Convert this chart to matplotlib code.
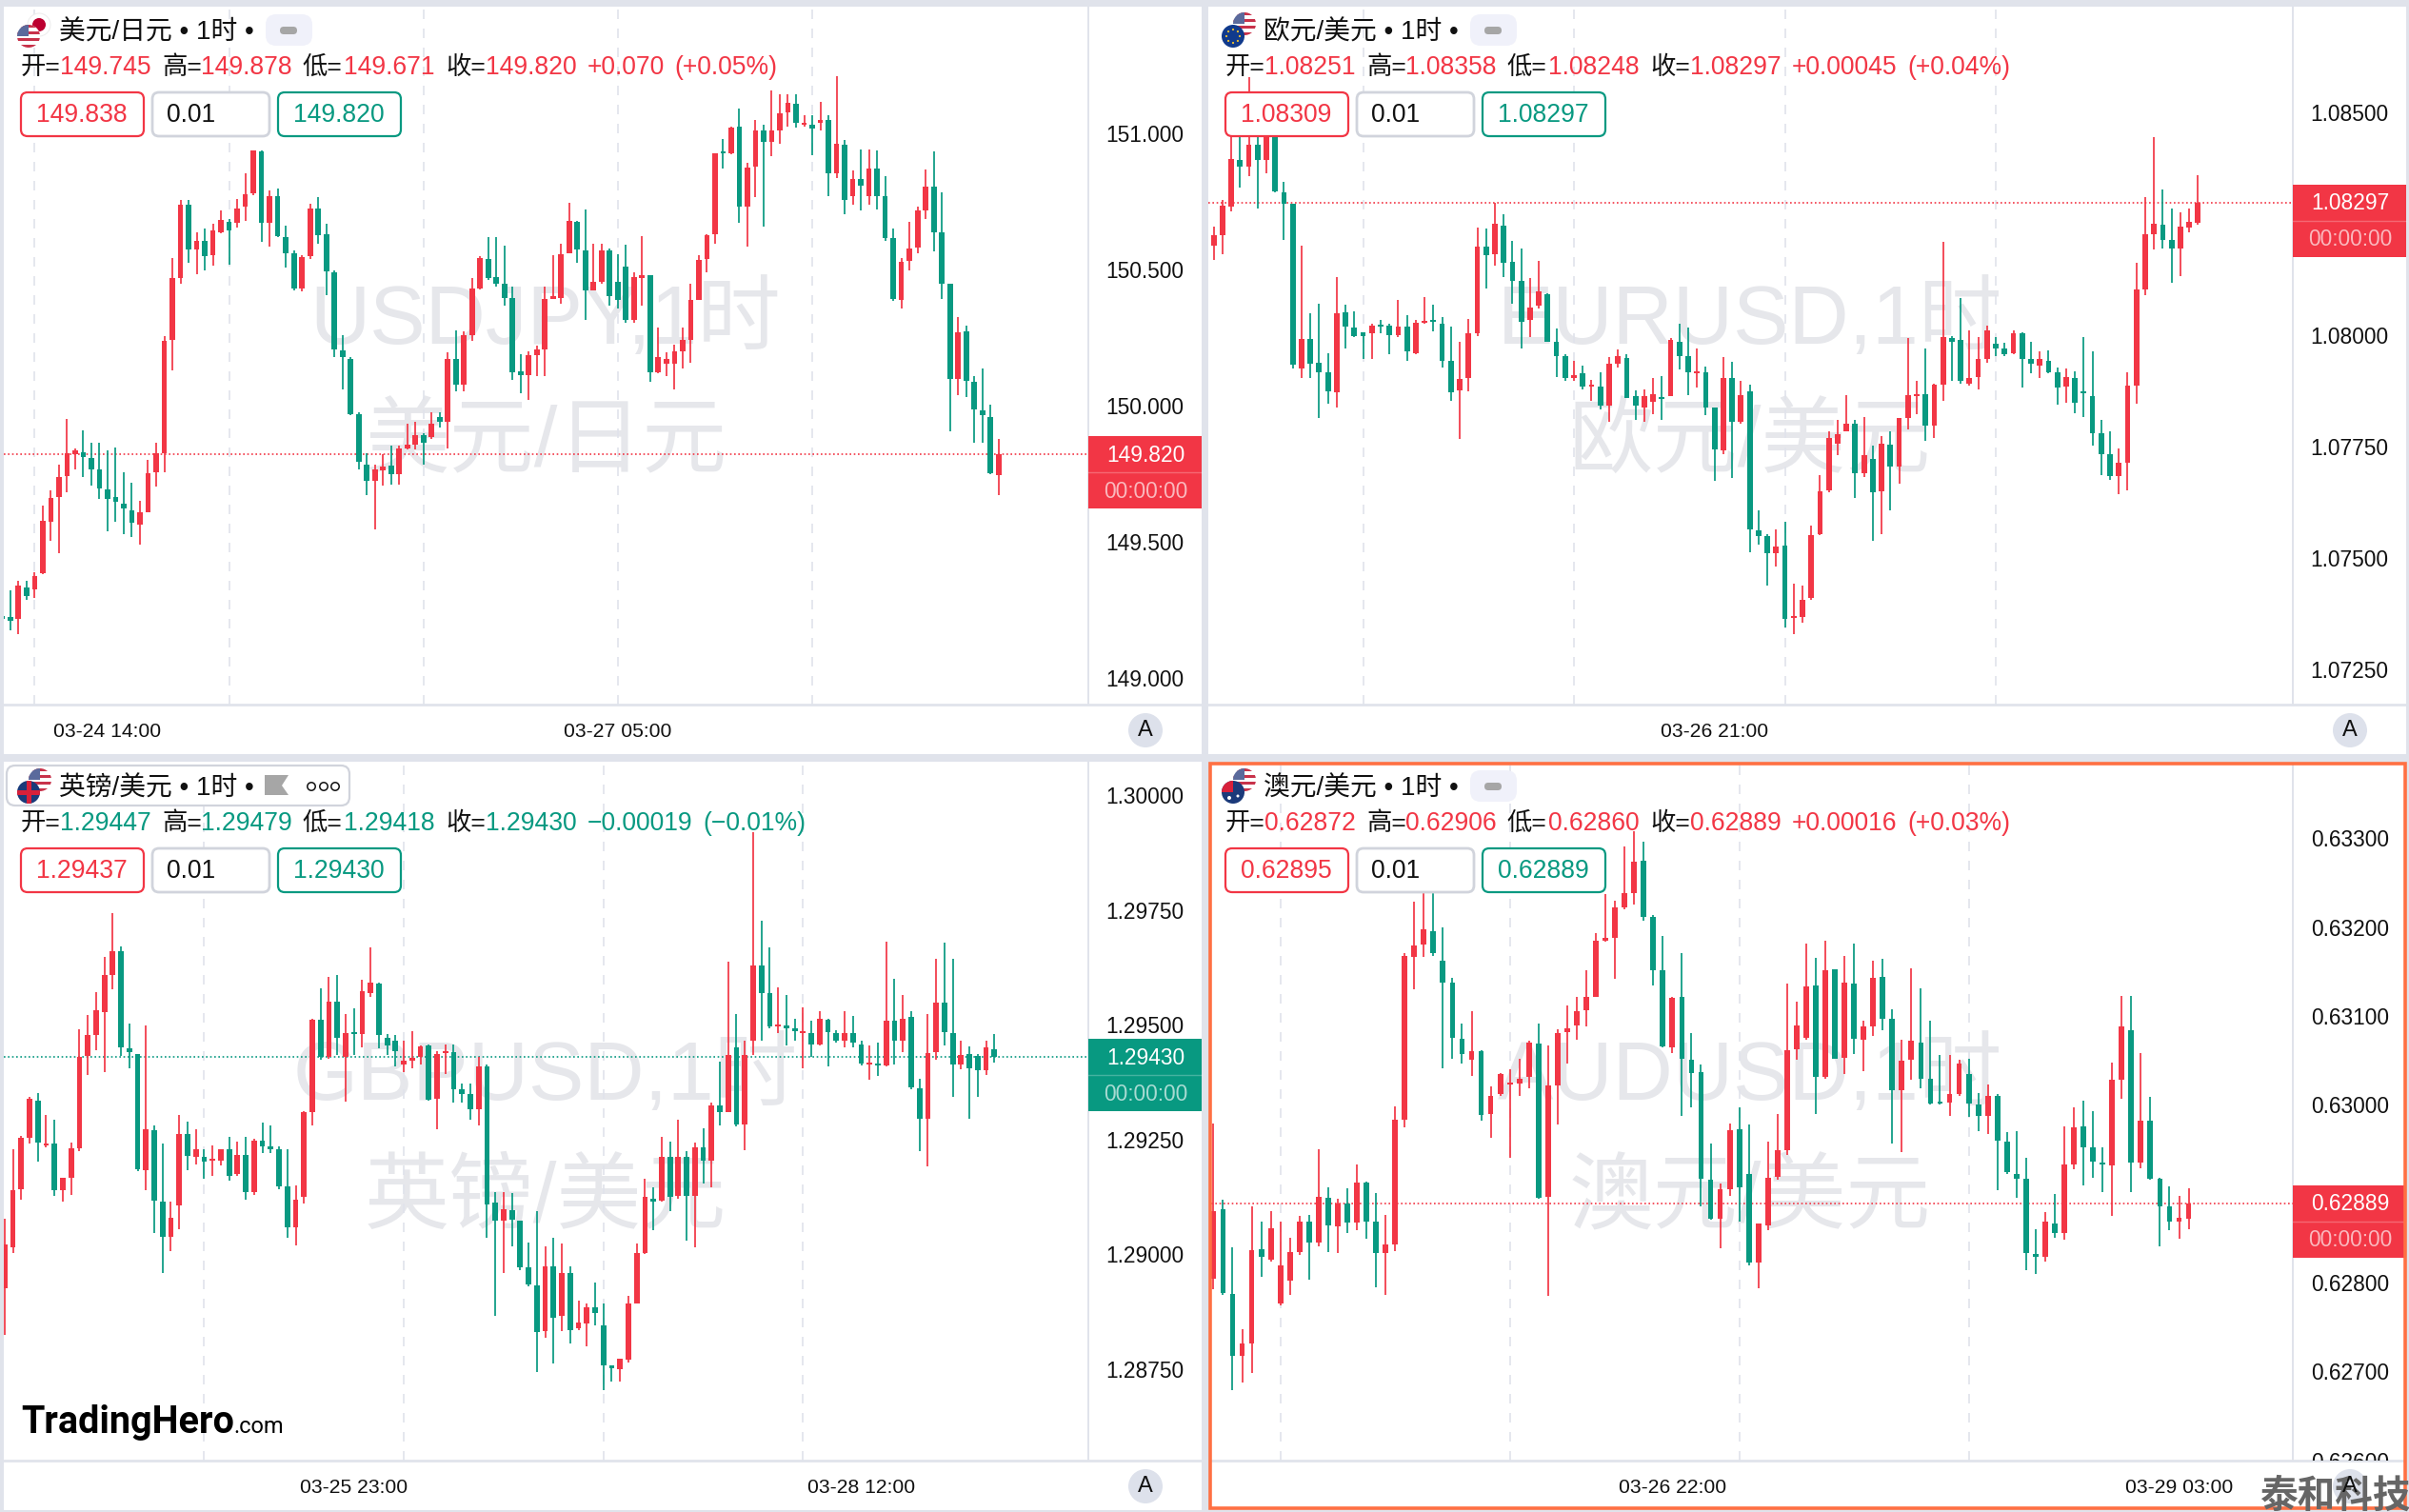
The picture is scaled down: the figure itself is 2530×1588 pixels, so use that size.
import numpy as np
import matplotlib
import matplotlib.pyplot as plt
from matplotlib.patches import Circle, FancyBboxPatch, Rectangle, Polygon
from matplotlib.transforms import Bbox, TransformedBbox

matplotlib.use('Agg')

plt.rcParams['font.family'] = ['Liberation Sans', 'Noto Sans CJK SC', 'DejaVu Sans']

W, H = 2530, 1588
RED = '#F23645'
GREEN = '#089981'
GRID = '#E0E3EB'
WATERMARK = '#E6E7EB'

# open, high, low, close
jpy_ohlc = [
    (149.228, 149.242, 149.207, 149.217), (149.224, 149.322, 149.175, 149.210), (149.217, 149.357, 149.162, 149.338), (149.331, 149.357, 149.286, 149.299),
    (149.324, 149.387, 149.295, 149.373), (149.384, 149.632, 149.380, 149.578), (149.575, 149.688, 149.504, 149.660), (149.663, 149.782, 149.458, 149.738),
    (149.741, 149.950, 149.681, 149.826), (149.823, 149.844, 149.764, 149.835), (149.830, 149.909, 149.738, 149.812), (149.809, 149.865, 149.706, 149.766),
    (149.766, 149.865, 149.658, 149.695), (149.692, 149.835, 149.538, 149.658), (149.663, 149.847, 149.575, 149.646), (149.640, 149.755, 149.529, 149.621),
    (149.617, 149.715, 149.516, 149.570), (149.564, 149.649, 149.490, 149.610), (149.610, 149.800, 149.610, 149.750), (149.755, 149.865, 149.702, 149.826),
    (149.826, 150.255, 149.755, 150.239), (150.242, 150.543, 150.131, 150.470), (150.469, 150.754, 150.449, 150.736), (150.736, 150.754, 150.525, 150.573),
    (150.573, 150.637, 150.481, 150.605), (150.605, 150.649, 150.495, 150.548), (150.552, 150.667, 150.513, 150.644), (150.637, 150.715, 150.632, 150.681),
    (150.676, 150.685, 150.517, 150.644), (150.671, 150.757, 150.655, 150.725), (150.729, 150.853, 150.679, 150.777), (150.778, 150.938, 150.773, 150.938),
    (150.932, 150.936, 150.601, 150.671), (150.671, 150.791, 150.584, 150.768), (150.768, 150.796, 150.619, 150.623), (150.619, 150.662, 150.508, 150.561),
    (150.561, 150.570, 150.424, 150.431), (150.431, 150.552, 150.419, 150.547), (150.550, 150.741, 150.538, 150.724), (150.724, 150.764, 150.596, 150.626),
    (150.628, 150.667, 150.407, 150.492), (150.490, 150.495, 150.177, 150.207), (150.203, 150.260, 150.060, 150.178), (150.171, 150.177, 149.964, 149.968),
    (149.968, 149.977, 149.764, 149.794), (149.784, 149.826, 149.670, 149.724), (149.724, 149.782, 149.547, 149.764), (149.763, 149.823, 149.706, 149.777),
    (149.780, 149.853, 149.711, 149.747), (149.747, 149.853, 149.709, 149.844), (149.844, 149.932, 149.840, 149.855), (149.858, 149.941, 149.840, 149.893),
    (149.893, 149.897, 149.782, 149.865), (149.886, 149.977, 149.879, 149.932), (149.959, 149.977, 149.918, 149.939), (149.941, 150.194, 149.844, 150.171),
    (150.171, 150.277, 150.053, 150.077), (150.077, 150.272, 150.053, 150.260), (150.260, 150.467, 150.237, 150.431), (150.431, 150.548, 150.428, 150.543),
    (150.540, 150.619, 150.463, 150.467), (150.472, 150.619, 150.437, 150.446), (150.446, 150.587, 150.366, 150.396), (150.396, 150.437, 150.095, 150.124),
    (150.125, 150.189, 150.047, 150.113), (150.113, 150.198, 150.021, 150.184), (150.184, 150.219, 150.109, 150.207), (150.207, 150.437, 150.109, 150.393),
    (150.393, 150.552, 150.393, 150.401), (150.396, 150.596, 150.375, 150.557), (150.561, 150.743, 150.561, 150.679), (150.676, 150.679, 150.525, 150.573),
    (150.570, 150.720, 150.313, 150.423), (150.423, 150.596, 150.423, 150.455), (150.455, 150.596, 150.446, 150.570), (150.570, 150.578, 150.366, 150.401),
    (150.455, 150.555, 150.357, 150.389), (150.511, 150.591, 150.304, 150.313), (150.313, 150.490, 150.304, 150.472), (150.467, 150.623, 150.366, 150.478),
    (150.478, 150.478, 150.086, 150.124), (150.124, 150.286, 150.118, 150.177), (150.154, 150.194, 150.109, 150.171), (150.154, 150.224, 150.060, 150.198),
    (150.198, 150.286, 150.136, 150.242), (150.242, 150.446, 150.159, 150.389), (150.389, 150.552, 150.389, 150.534), (150.538, 150.628, 150.490, 150.626),
    (150.628, 150.927, 150.596, 150.925), (150.931, 150.980, 150.870, 150.925), (150.927, 151.026, 150.924, 151.021), (151.023, 151.090, 150.672, 150.729),
    (150.729, 150.892, 150.584, 150.874), (150.876, 151.048, 150.764, 151.009), (151.009, 151.033, 150.658, 150.968), (150.968, 151.157, 150.915, 151.009),
    (151.009, 151.145, 150.963, 151.074), (151.078, 151.145, 151.026, 151.111), (151.108, 151.145, 151.021, 151.039), (151.030, 151.065, 151.026, 151.035),
    (151.030, 151.065, 150.918, 151.019), (151.040, 151.115, 151.009, 151.048), (151.048, 151.065, 150.768, 150.853), (150.853, 151.210, 150.835, 150.963),
    (150.959, 150.977, 150.702, 150.754), (150.768, 150.862, 150.738, 150.832), (150.832, 150.941, 150.715, 150.809), (150.768, 150.941, 150.738, 150.871),
    (150.871, 150.938, 150.720, 150.768), (150.768, 150.844, 150.605, 150.614), (150.614, 150.649, 150.384, 150.393), (150.389, 150.543, 150.357, 150.529),
    (150.531, 150.676, 150.495, 150.578), (150.582, 150.729, 150.561, 150.715), (150.715, 150.867, 150.685, 150.803), (150.803, 150.934, 150.566, 150.637),
    (150.637, 150.782, 150.393, 150.446), (150.446, 150.446, 149.906, 150.097), (150.097, 150.325, 150.039, 150.269), (150.272, 150.294, 150.030, 150.092),
    (150.086, 150.109, 149.862, 149.985), (149.982, 150.136, 149.862, 149.964), (149.959, 150.003, 149.747, 149.752), (149.745, 149.878, 149.671, 149.820),
]

# the other three pairs are kept in points (1e-5)
eur_ohlc = [
    (108200, 108243, 108168, 108224), (108224, 108303, 108181, 108289), (108287, 108443, 108278, 108395), (108392, 108443, 108330, 108377),
    (108378, 108578, 108357, 108427), (108427, 108443, 108284, 108392), (108392, 108460, 108362, 108450), (108450, 108460, 108319, 108322),
    (108319, 108343, 108213, 108295), (108294, 108295, 107925, 107933), (107925, 108200, 107903, 107992), (107992, 108049, 107903, 107936),
    (107939, 108071, 107814, 107917), (107917, 107959, 107846, 107874), (107871, 108129, 107838, 108049), (108051, 108068, 107971, 108019),
    (108017, 108054, 107995, 107997), (108006, 108006, 107946, 107998), (108004, 108025, 107946, 108021), (108021, 108033, 108004, 108019),
    (108021, 108025, 107957, 107999), (107999, 108079, 107995, 108019), (108019, 108044, 107943, 107963), (107960, 108033, 107957, 108027),
    (108027, 108086, 108025, 108032), (108033, 108068, 108008, 108030), (108025, 108040, 107928, 107943), (107943, 108019, 107852, 107871),
    (107876, 107984, 107768, 107901), (107903, 108036, 107874, 108004), (108004, 108241, 107997, 108198), (108198, 108238, 108105, 108179),
    (108182, 108297, 108155, 108249), (108246, 108270, 108130, 108162), (108165, 108211, 108071, 108122), (108122, 108195, 107971, 108030),
    (108033, 108127, 107995, 108062), (108067, 108166, 108060, 108098), (108092, 108094, 107984, 107984), (107986, 108014, 107906, 107952),
    (107954, 107957, 107898, 107903), (107903, 107943, 107898, 107911), (107914, 107932, 107878, 107885), (107884, 107900, 107852, 107887),
    (107885, 107917, 107833, 107842), (107842, 107950, 107806, 107936), (107936, 107968, 107928, 107952), (107949, 107957, 107860, 107860),
    (107863, 107876, 107809, 107842), (107838, 107878, 107806, 107863), (107850, 107903, 107822, 107868), (107860, 107909, 107811, 107857),
    (107863, 107993, 107863, 107990), (107986, 108025, 107922, 107954), (107954, 108017, 107865, 107917), (107914, 107971, 107882, 107919),
    (107917, 107930, 107820, 107838), (107838, 107838, 107673, 107744), (107741, 107950, 107734, 107903), (107903, 107941, 107680, 107806),
    (107806, 107898, 107801, 107865), (107874, 107889, 107514, 107565), (107563, 107608, 107531, 107550), (107550, 107554, 107439, 107511),
    (107511, 107565, 107482, 107526), (107528, 107582, 107345, 107364), (107366, 107442, 107330, 107371), (107369, 107439, 107356, 107407),
    (107412, 107574, 107406, 107552), (107554, 107687, 107552, 107649), (107652, 107784, 107647, 107770), (107757, 107811, 107730, 107779),
    (107784, 107865, 107784, 107801), (107801, 107811, 107636, 107690), (107690, 107817, 107682, 107730), (107723, 107752, 107539, 107647),
    (107649, 107774, 107554, 107757), (107755, 107784, 107608, 107706), (107706, 107814, 107666, 107814), (107814, 107993, 107788, 107865),
    (107863, 107898, 107822, 107868), (107868, 107971, 107763, 107798), (107798, 107892, 107770, 107889), (107889, 108208, 107852, 107995),
    (107993, 107997, 107898, 107984), (107989, 108084, 107892, 107898), (107892, 108011, 107887, 107904), (107906, 107995, 107878, 107946),
    (107946, 108022, 107939, 108010), (107980, 107995, 107954, 107971), (107971, 107982, 107952, 107958), (107960, 108011, 107957, 108004),
    (108004, 108006, 107882, 107946), (107946, 107984, 107914, 107936), (107932, 107963, 107903, 107946), (107943, 107965, 107914, 107917),
    (107917, 107928, 107844, 107883), (107885, 107925, 107849, 107906), (107903, 107919, 107824, 107849), (107874, 107995, 107817, 107870),
    (107863, 107963, 107752, 107781), (107781, 107811, 107687, 107734), (107734, 107784, 107676, 107684), (107684, 107747, 107644, 107714),
    (107714, 107917, 107652, 107887), (107887, 108162, 107846, 108103), (108103, 108310, 108090, 108227), (108227, 108443, 108192, 108249),
    (108248, 108327, 108195, 108213), (108214, 108284, 108117, 108194), (108194, 108276, 108133, 108243), (108241, 108284, 108230, 108254),
    (108251, 108358, 108248, 108297),
]

gbp_ohlc = [
    (128927, 129078, 128824, 129021), (129015, 129230, 129004, 129139), (129141, 129259, 129120, 129254), (129253, 129343, 129241, 129338),
    (129335, 129351, 129202, 129244), (129238, 129304, 129233, 129242), (129241, 129293, 129128, 129139), (129139, 129167, 129115, 129166),
    (129167, 129244, 129130, 129231), (129231, 129490, 129225, 129430), (129433, 129521, 129391, 129477), (129477, 129571, 129445, 129532),
    (129527, 129647, 129398, 129608), (129608, 129743, 129577, 129661), (129661, 129671, 129433, 129450), (129448, 129503, 129406, 129440),
    (129437, 129437, 129181, 129185), (129183, 129498, 129139, 129272), (129270, 129280, 129046, 129118), (129115, 129241, 128960, 129039),
    (129038, 129115, 129007, 129080), (129107, 129304, 129055, 129262), (129262, 129290, 129183, 129214), (129212, 129272, 129196, 129230),
    (129212, 129230, 129164, 129202), (129204, 129238, 129172, 129206), (129204, 129230, 129193, 129230), (129230, 129256, 129160, 129172),
    (129175, 129246, 129170, 129217), (129217, 129256, 129120, 129136), (129136, 129251, 129130, 129248), (129248, 129288, 129220, 129235),
    (129235, 129280, 129220, 129230), (129230, 129235, 129143, 129149), (129149, 129230, 129036, 129059), (129059, 129151, 129020, 129120),
    (129126, 129311, 129110, 129309), (129309, 129514, 129280, 129511), (129511, 129580, 129424, 129430), (129430, 129605, 129427, 129550),
    (129550, 129608, 129435, 129472), (129430, 129524, 129332, 129481), (129482, 129535, 129435, 129479), (129479, 129598, 129451, 129574),
    (129569, 129668, 129561, 129592), (129590, 129592, 129448, 129477), (129472, 129479, 129435, 129456), (129466, 129477, 129409, 129443),
    (129414, 129466, 129398, 129421), (129422, 129487, 129406, 129428), (129430, 129456, 129414, 129453), (129456, 129458, 129335, 129337),
    (129338, 129443, 129272, 129437), (129438, 129458, 129393, 129443), (129440, 129458, 129330, 129359), (129359, 129372, 129330, 129349),
    (129349, 129372, 129293, 129317), (129317, 129430, 129280, 129410), (129410, 129414, 129036, 129109), (129112, 129136, 128866, 129073),
    (129073, 129136, 128960, 129099), (129097, 129133, 129017, 129076), (129073, 129073, 128965, 128971), (128971, 129026, 128931, 128935),
    (128933, 129094, 128744, 128831), (128834, 129017, 128818, 128973), (128975, 129036, 128763, 128863), (128866, 129023, 128834, 128960),
    (128960, 128975, 128807, 128836), (128839, 128899, 128836, 128852), (128849, 128894, 128800, 128884), (128884, 128939, 128845, 128873),
    (128845, 128894, 128705, 128758), (128758, 128758, 128723, 128752), (128750, 128773, 128723, 128773), (128771, 128910, 128765, 128893),
    (128894, 129023, 128893, 129004), (129004, 129164, 129002, 129125), (129122, 129146, 129052, 129115), (129118, 129256, 129115, 129212),
    (129212, 129246, 129094, 129125), (129128, 129293, 129122, 129212), (129212, 129225, 129031, 129128), (129128, 129244, 129015, 129233),
    (129233, 129275, 129154, 129204), (129204, 129330, 129146, 129325), (129325, 129419, 129280, 129309), (129309, 129637, 129309, 129435),
    (129451, 129524, 129278, 129282), (129283, 129466, 129227, 129435), (129466, 129920, 129435, 129629), (129629, 129727, 129466, 129569),
    (129569, 129668, 129493, 129496), (129496, 129582, 129482, 129500), (129498, 129566, 129456, 129493), (129493, 129514, 129466, 129487),
    (129482, 129538, 129406, 129485), (129482, 129508, 129430, 129458), (129458, 129529, 129456, 129514), (129511, 129514, 129409, 129485),
    (129482, 129489, 129461, 129466), (129466, 129529, 129451, 129482), (129482, 129519, 129451, 129461), (129458, 129466, 129412, 129416),
    (129414, 129456, 129380, 129416), (129416, 129461, 129388, 129412), (129412, 129682, 129409, 129508), (129508, 129601, 129414, 129466),
    (129466, 129566, 129440, 129514), (129517, 129529, 129359, 129364), (129361, 129382, 129225, 129296), (129296, 129524, 129191, 129438),
    (129440, 129643, 129424, 129548), (129548, 129680, 129456, 129485), (129482, 129643, 129343, 129414), (129414, 129466, 129403, 129435),
    (129437, 129453, 129296, 129406), (129433, 129437, 129343, 129401), (129401, 129466, 129391, 129450), (129447, 129479, 129418, 129430),
]

aud_ohlc = [
    (62804, 62979, 62792, 62880), (62882, 62893, 62786, 62788), (62787, 62840, 62679, 62717), (62717, 62747, 62687, 62731),
    (62731, 62886, 62698, 62836), (62837, 62869, 62806, 62829), (62826, 62880, 62823, 62861), (62776, 62868, 62774, 62819),
    (62802, 62850, 62786, 62834), (62834, 62875, 62831, 62868), (62868, 62876, 62803, 62845), (62845, 62950, 62841, 62896),
    (62895, 62907, 62834, 62864), (62863, 62894, 62833, 62889), (62889, 62906, 62856, 62867), (62867, 62933, 62859, 62913),
    (62913, 62914, 62849, 62868), (62868, 62901, 62795, 62833), (62833, 62876, 62786, 62843), (62843, 62998, 62835, 62983),
    (62983, 63171, 62975, 63168), (63166, 63229, 63130, 63179), (63180, 63238, 63166, 63198), (63195, 63238, 63168, 63171),
    (63162, 63200, 63041, 63138), (63138, 63143, 63052, 63075), (63074, 63092, 63046, 63057), (63051, 63105, 63032, 63060),
    (63060, 63061, 62982, 62989), (62990, 63021, 62963, 63010), (63012, 63036, 63010, 63035), (63023, 63040, 62940, 63025),
    (63024, 63052, 63010, 63029), (63031, 63072, 63019, 63070), (63069, 63092, 62894, 62895), (62896, 63067, 62785, 63022),
    (63022, 63085, 62978, 63081), (63082, 63112, 63046, 63086), (63089, 63122, 63073, 63105), (63107, 63152, 63088, 63122),
    (63122, 63193, 63122, 63185), (63185, 63237, 63184, 63188), (63188, 63230, 63142, 63222), (63222, 63291, 63220, 63238),
    (63238, 63308, 63225, 63274), (63275, 63296, 63207, 63211), (63211, 63214, 63134, 63152), (63152, 63190, 63065, 63066),
    (63065, 63122, 63058, 63120), (63121, 63171, 62987, 63052), (63051, 63081, 62997, 63036), (63037, 63045, 62886, 62917),
    (62916, 62956, 62871, 62872), (62872, 62911, 62838, 62905), (62905, 62979, 62898, 62971), (62972, 62997, 62869, 62907),
    (62922, 62978, 62819, 62822), (62822, 62866, 62794, 62866), (62864, 62959, 62859, 62918), (62919, 62990, 62916, 62949),
    (62949, 63137, 62944, 63061), (63062, 63116, 63051, 63089), (63075, 63181, 63073, 63133), (63134, 63165, 62990, 63031),
    (63031, 63185, 63029, 63152), (63153, 63153, 63052, 63052), (63053, 63168, 63035, 63138), (63137, 63181, 63057, 63074),
    (63073, 63095, 63038, 63088), (63088, 63162, 63078, 63143), (63144, 63164, 63084, 63097), (63097, 63108, 62956, 63016),
    (63016, 63073, 62947, 63050), (63051, 63154, 63028, 63072), (63070, 63131, 63019, 63029), (63029, 63095, 63000, 63001),
    (63003, 63056, 63000, 63001), (63003, 63056, 62987, 63012), (63012, 63051, 63010, 63046), (63035, 63052, 62986, 63001),
    (63000, 63013, 62970, 62987), (62987, 63023, 62967, 63010), (63010, 63012, 62904, 62960), (62959, 62969, 62922, 62924),
    (62922, 62970, 62895, 62917), (62917, 62940, 62814, 62833), (62832, 62860, 62810, 62829), (62829, 62879, 62823, 62868),
    (62866, 62900, 62850, 62856), (62856, 62976, 62848, 62933), (62933, 62997, 62927, 62975), (62976, 63005, 62909, 62952),
    (62952, 62993, 62918, 62936), (62935, 62952, 62902, 62933), (62932, 63047, 62875, 63028), (63028, 63123, 63007, 63088),
    (63084, 63123, 62902, 62935), (62935, 63058, 62929, 62982), (62982, 63009, 62916, 62917), (62917, 62918, 62841, 62886),
    (62886, 62908, 62859, 62868), (62868, 62898, 62849, 62873), (62872, 62906, 62860, 62889),
]

jpy_ticks = [149.0, 149.5, 150.0, 150.5, 151.0]
eur_ticks = [1.0725, 1.075, 1.0775, 1.08, 1.085]
gbp_ticks = [1.2875, 1.29, 1.2925, 1.295, 1.2975, 1.30]
aud_ticks = [0.626, 0.627, 0.628, 0.63, 0.631, 0.632, 0.633]

jpy_quote = ['149.745', '149.878', '149.671', '149.820', '+0.070', '(+0.05%)', '149.838', '149.820']
eur_quote = ['1.08251', '1.08358', '1.08248', '1.08297', '+0.00045', '(+0.04%)', '1.08309', '1.08297']
gbp_quote = ['1.29447', '1.29479', '1.29418', '1.29430', '\u22120.00019', '(\u22120.01%)', '1.29437', '1.29430']
aud_quote = ['0.62872', '0.62906', '0.62860', '0.62889', '+0.00016', '(+0.03%)', '0.62895', '0.62889']

panels = [
    dict(ohlc=jpy_ohlc, scale=1, fmt='%.3f', ticks=jpy_ticks, quote=jpy_quote, name='美元/日元', mark='USDJPY,1时',
         box=(4, 7, 1143, 740), right=1262, bottom=792, xlim=(0.19, 134.09), ylim=(148.902, 151.465),
         grid=[4, 28, 52, 76, 100], times=[13, 76], labels=['03-24 14:00', '03-27 05:00'], dx=0, dy=0, flag='jp'),
    dict(ohlc=eur_ohlc, scale=1e5, fmt='%.5f', ticks=eur_ticks, quote=eur_quote, name='欧元/美元', mark='EURUSD,1时',
         box=(1269, 7, 2408, 740), right=2527, bottom=792, xlim=(-0.61, 122.8), ylim=(1.07172, 1.08736),
         grid=[17, 41, 65, 89], times=[57], labels=['03-26 21:00'], dx=1265, dy=0, flag='eu'),
    dict(ohlc=gbp_ohlc, scale=1e5, fmt='%.5f', ticks=gbp_ticks, quote=gbp_quote, name='英镑/美元', mark='GBPUSD,1时',
         box=(4, 800, 1143, 1534), right=1262, bottom=1586, xlim=(-0.09, 130.3), ylim=(1.28551, 1.30073),
         grid=[24, 48, 72, 96], times=[42, 103], labels=['03-25 23:00', '03-28 12:00'], dx=0, dy=794, flag='uk'),
    dict(ohlc=aud_ohlc, scale=1e5, fmt='%.5f', ticks=aud_ticks, quote=aud_quote, name='澳元/美元', mark='AUDUSD,1时',
         box=(1272, 803, 2408, 1534), right=2527, bottom=1584, xlim=(-0.24, 112.9), ylim=(0.625995, 0.63383),
         grid=[7, 31, 55, 79], times=[48, 101], labels=['03-26 22:00', '03-29 03:00'], dx=1265, dy=794, flag='au'),
]


def round_box(ax, x0, y0, x1, y1, face, edge, lw=1.6, rad=7, z=5):
    ax.add_patch(FancyBboxPatch((x0 + rad, y0 + rad), x1 - x0 - 2 * rad, y1 - y0 - 2 * rad,
                                boxstyle='round,pad=%d,rounding_size=%d' % (rad, rad),
                                fc=face, ec=edge, lw=lw, zorder=z))


# flags are small circles with clipped shapes on top
def draw_flag(ax, cx, cy, kind, z):
    r = 12
    base = {'us': 'white', 'jp': 'white', 'eu': '#103A8C', 'uk': '#1B3A7A', 'au': '#1B3A7A'}[kind]
    disc = Circle((cx, cy), r, fc=base, ec='none', zorder=z)
    ax.add_patch(disc)
    parts = []
    if kind == 'us':
        for k in range(7):
            if k % 2 == 0:
                parts.append(Rectangle((cx - r, cy - r + k * 2 * r / 7), 2 * r, 2 * r / 7, fc='#C8324A', ec='none'))
        parts.append(Rectangle((cx - r, cy - r), r, r, fc='#5A6A9C', ec='none'))
    elif kind == 'jp':
        parts.append(Circle((cx, cy), 7, fc='#BC0030', ec='none'))
    elif kind == 'eu':
        for a in np.linspace(0, 2 * np.pi, 8, endpoint=False):
            parts.append(Circle((cx + 7 * np.cos(a), cy + 7 * np.sin(a)), 1.1, fc='#F2C230', ec='none'))
    elif kind == 'uk':
        parts.append(Rectangle((cx - r, cy - 2.5), 2 * r, 5, fc='#D8203A', ec='none'))
        parts.append(Rectangle((cx - 2.5, cy - r), 5, 2 * r, fc='#D8203A', ec='none'))
    elif kind == 'au':
        parts.append(Rectangle((cx - r, cy - r), r, r, fc='#D8203A', ec='none'))
        parts.append(Circle((cx + 5, cy + 4), 1.5, fc='white', ec='none'))
        parts.append(Circle((cx - 4, cy + 6), 2, fc='white', ec='none'))
    for p in parts:
        p.set_zorder(z + 0.1)
        ax.add_patch(p)
        p.set_clip_path(disc)


fig = plt.figure(figsize=(W / 100, H / 100), dpi=100, facecolor=GRID)

# white panels at the back, the ui furniture in pixel space on top
back = fig.add_axes([0, 0, 1, 1], zorder=0)
back.set_xlim(0, W)
back.set_ylim(H, 0)
back.axis('off')
over = fig.add_axes([0, 0, 1, 1], zorder=5)
over.set_xlim(0, W)
over.set_ylim(H, 0)
over.axis('off')
over.patch.set_alpha(0)

for p in panels:
    x0, y0, x1, y1 = p['box']
    dx, dy = p['dx'], p['dy']
    back.add_patch(Rectangle((x0, y0), p['right'] - x0, p['bottom'] - y0, fc='white', ec='none'))
    back.plot([x1, x1], [y0, y1], color=GRID, lw=1.4)
    back.plot([x0, p['right']], [y1, y1], color=GRID, lw=2)

    ax = fig.add_axes([x0 / W, 1 - y1 / H, (x1 - x0) / W, (y1 - y0) / H], zorder=2)
    ax.patch.set_alpha(0)
    for s in ax.spines.values():
        s.set_visible(False)
    ax.set_xlim(p['xlim'])
    ax.set_ylim(p['ylim'])

    # watermark under the candles
    mx = dx + 573
    ax.text(mx / W, 1 - (dy + 337) / H, p['mark'], transform=fig.transFigure, ha='center', va='center',
            fontsize=63, color=WATERMARK, zorder=0.5)
    ax.text(mx / W, 1 - (dy + 467) / H, p['name'], transform=fig.transFigure, ha='center', va='center',
            fontsize=64, color=WATERMARK, zorder=0.5)

    for g in p['grid']:
        ax.axvline(g, color=GRID, lw=1.2, ls=(0, (6, 6)), zorder=1)

    # candles
    ohlc = np.array(p['ohlc'], dtype=float) / p['scale']
    xs = np.arange(len(ohlc))
    spacing = (x1 - x0) / (p['xlim'][1] - p['xlim'][0])
    colors = [RED if c >= o else GREEN for o, c in zip(ohlc[:, 0], ohlc[:, 3])]
    ax.vlines(xs, ohlc[:, 2], ohlc[:, 1], colors=colors, lw=1.25, zorder=3)
    body_min = (p['ylim'][1] - p['ylim'][0]) / (y1 - y0) * 2
    ax.bar(xs, np.maximum(np.abs(ohlc[:, 3] - ohlc[:, 0]), body_min), bottom=np.minimum(ohlc[:, 0], ohlc[:, 3]),
           width=5.8 / spacing, color=colors, lw=0, zorder=3)

    last = ohlc[-1, 3]
    col = colors[-1]
    ax.axhline(last, color=col, lw=1.2, ls=(0, (1, 1.6)), zorder=2)

    # axes text
    ax.yaxis.tick_right()
    ax.set_yticks(p['ticks'], [p['fmt'] % t for t in p['ticks']])
    ax.tick_params(axis='y', length=0, pad=43, labelsize=16.4, labelcolor='#111111')
    for lab in ax.get_yticklabels():
        lab.set_ha('center')
        lab.set_clip_on(True)
        lab.set_clip_box(TransformedBbox(Bbox([[x1 / W, 1 - y1 / H], [p['right'] / W, 1 - y0 / H]]), fig.transFigure))
    ax.set_xticks(p['times'], p['labels'])
    ax.tick_params(axis='x', length=0, pad=14, labelsize=15.2, labelcolor='#111111')

    # last price flag on the price axis
    ax_y = y0 + (p['ylim'][1] - last) / (p['ylim'][1] - p['ylim'][0]) * (y1 - y0)
    over.add_patch(Rectangle((x1, ax_y - 19), p['right'] - x1, 76, fc=col, ec='none', zorder=3))
    over.plot([x1, p['right']], [ax_y + 19, ax_y + 19], color='white', alpha=0.25, lw=1, zorder=3.1)
    over.text(dx + 1203, ax_y + 1, p['quote'][3], color='white', fontsize=16.4, ha='center', va='center', zorder=4)
    over.text(dx + 1203, ax_y + 39, '00:00:00', color='#FFFFFF', alpha=0.65, fontsize=16.4, ha='center', va='center', zorder=4)

    # header
    q = p['quote']
    qc = RED if q[4][0] == '+' else GREEN
    if p['flag'] == 'uk':
        round_box(over, 7, dy + 10, 367, dy + 52, 'white', '#D1D4DC', lw=1.6, rad=9, z=2)
    if p['flag'] == 'jp':
        draw_flag(over, dx + 41, dy + 26, 'jp', 5)
        over.add_patch(Circle((dx + 41, dy + 26), 12, fc='none', ec='#EEEEEE', lw=0.8, zorder=5.2))
        draw_flag(over, dx + 30, dy + 38, 'us', 6)
    else:
        draw_flag(over, dx + 42, dy + 25, 'us', 5)
        draw_flag(over, dx + 30, dy + 38, p['flag'], 6)
    over.text(dx + 62, dy + 42, p['name'] + ' • 1时 •', fontsize=20, color='#111111', va='baseline', zorder=6)
    if p['flag'] == 'uk':
        over.add_patch(Polygon([(278, dy + 20), (303, dy + 20), (296, dy + 31), (303, dy + 41), (278, dy + 41)], fc='#A6A6A6', ec='none', zorder=6))
        for cx in [327, 340, 352]:
            over.add_patch(Circle((cx, dy + 32), 4.2, fc='none', ec='#111111', lw=1.1, zorder=6))
    else:
        round_box(over, dx + 279, dy + 15, dx + 328, dy + 48, '#F0F1FA', 'none', lw=0, rad=11)
        round_box(over, dx + 294, dy + 28, dx + 312, dy + 36, '#A6A6A6', 'none', lw=0, rad=4, z=6)

    base_y = dy + 78
    for lab, lx in zip(['开=', '高=', '低=', '收='], [22, 170, 317, 468]):
        over.text(dx + lx, base_y, lab, fontsize=19, color='#111111', va='baseline', zorder=6)
    for val, vx in zip(q[:6], [63, 211, 361, 510, 617, 708 if p['flag'] == 'jp' else 738]):
        over.text(dx + vx, base_y, val, fontsize=19.1, color=qc, va='baseline', zorder=6)

    by0, by1 = dy + 97, dy + 143
    round_box(over, dx + 22, by0, dx + 151, by1, 'white', RED)
    round_box(over, dx + 160, by0, dx + 283, by1, 'white', '#D1D4DC', lw=2)
    round_box(over, dx + 292, by0, dx + 421, by1, 'white', GREEN)
    over.text(dx + 86, dy + 121, q[6], fontsize=19.1, color=RED, ha='center', va='center', zorder=6)
    over.text(dx + 175, dy + 121, '0.01', fontsize=19.1, color='#111111', va='center', zorder=6)
    over.text(dx + 356, dy + 121, q[7], fontsize=19.1, color=GREEN, ha='center', va='center', zorder=6)

    # auto scale button
    over.add_patch(Circle((dx + 1203, y1 + 27), 18, fc='#DDE1EB', ec='none', zorder=3))
    over.text(dx + 1203, y1 + 27, 'A', fontsize=17, color='#111111', ha='center', va='center', zorder=7)

# selected panel frame
over.add_patch(Rectangle((1271, 802), 1255, 782, fc='none', ec='#FF7043', lw=2.6, zorder=6))

# logos
over.text(22, 1505, 'TradingHero', fontsize=28.5, fontweight='bold', family='Roboto', color='black', va='baseline', zorder=6)
over.text(245, 1505, '.com', fontsize=17, family='Roboto', color='black', va='baseline', zorder=6)
over.text(2452, 1571, '泰和科技', fontsize=28.5, fontweight='bold', family='Noto Sans CJK SC', color='#666666',
          ha='center', va='center', zorder=6.5)

fig.savefig('out.png', dpi=100, facecolor=fig.get_facecolor())
